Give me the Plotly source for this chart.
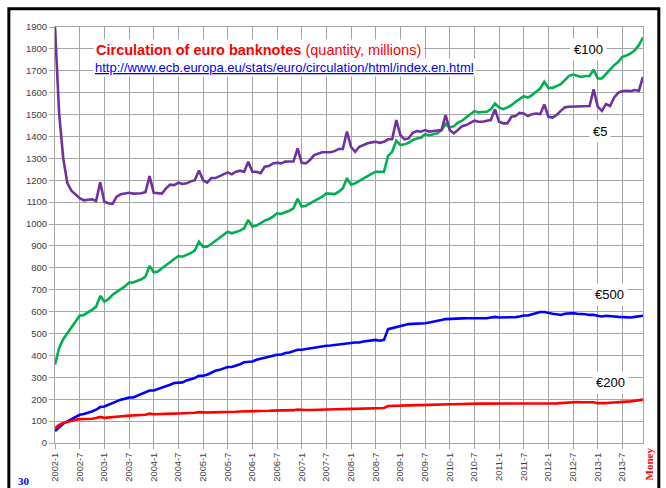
import plotly.graph_objects as go

# ---- data ----
months = [f"{y}-{m}" for y in range(2002, 2014) for m in range(1, 13)]
tick_labels = [f"{y}-{m}" for y in range(2002, 2014) for m in (1, 7)]

e5 = [1900, 1507, 1301, 1187, 1152, 1133, 1118, 1108, 1110, 1113, 1105, 1191,
      1102, 1095, 1092, 1125, 1136, 1139, 1143, 1139, 1139, 1141, 1146, 1219,
      1143, 1141, 1139, 1163, 1180, 1178, 1189, 1183, 1186, 1195, 1200, 1245,
      1201, 1189, 1210, 1210, 1219, 1228, 1236, 1227, 1239, 1244, 1239, 1285,
      1239, 1239, 1232, 1262, 1265, 1277, 1280, 1277, 1285, 1286, 1286, 1346,
      1280, 1277, 1292, 1315, 1323, 1328, 1328, 1328, 1333, 1343, 1343, 1422,
      1352, 1330, 1353, 1361, 1369, 1373, 1376, 1371, 1376, 1387, 1387, 1475,
      1406, 1387, 1391, 1417, 1425, 1422, 1429, 1422, 1425, 1429, 1429, 1498,
      1429, 1414, 1432, 1447, 1452, 1463, 1472, 1467, 1467, 1472, 1475, 1524,
      1467, 1460, 1460, 1490, 1493, 1508, 1505, 1493, 1502, 1505, 1502, 1546,
      1490, 1486, 1498, 1517, 1533, 1536, 1536, 1536, 1536, 1539, 1539, 1615,
      1536, 1517, 1548, 1539, 1578, 1600, 1607, 1609, 1607, 1612, 1609, 1672]

e100 = [358, 433, 474, 502, 529, 555, 581, 585, 596, 608, 623, 672,
        646, 657, 677, 692, 703, 715, 733, 733, 739, 748, 760, 809,
        780, 783, 798, 813, 824, 839, 854, 851, 859, 867, 879, 920,
        897, 897, 909, 924, 935, 950, 965, 958, 964, 970, 981, 1019,
        988, 993, 1004, 1016, 1023, 1034, 1049, 1046, 1054, 1061, 1072, 1115,
        1080, 1083, 1095, 1105, 1113, 1125, 1140, 1140, 1137, 1148, 1163, 1209,
        1180, 1186, 1198, 1209, 1219, 1229, 1239, 1239, 1239, 1311, 1330, 1381,
        1361, 1364, 1371, 1384, 1391, 1394, 1410, 1406, 1410, 1414, 1429, 1457,
        1441, 1447, 1463, 1472, 1487, 1502, 1516, 1510, 1510, 1513, 1524, 1551,
        1533, 1525, 1533, 1543, 1558, 1569, 1584, 1578, 1589, 1604, 1619, 1650,
        1622, 1622, 1631, 1639, 1657, 1677, 1683, 1676, 1672, 1676, 1676, 1706,
        1665, 1665, 1685, 1706, 1726, 1741, 1764, 1770, 1779, 1794, 1817, 1852]

e500 = [55, 73, 88, 99, 109, 119, 129, 132, 137, 144, 152, 164,
        167, 175, 182, 190, 198, 202, 208, 208, 216, 225, 231, 240,
        240, 246, 255, 261, 266, 274, 277, 277, 286, 290, 297, 307,
        307, 312, 322, 330, 334, 342, 347, 347, 353, 360, 369, 372,
        372, 380, 385, 391, 395, 400, 403, 403, 411, 413, 421, 426,
        426, 429, 433, 438, 441, 444, 444, 445, 448, 450, 453, 455,
        457, 459, 459, 464, 467, 468, 471, 467, 471, 520, 525, 529,
        532, 540, 543, 544, 544, 547, 547, 550, 553, 558, 562, 566,
        566, 567, 567, 569, 570, 570, 570, 570, 569, 570, 573, 576,
        573, 573, 573, 573, 575, 578, 582, 582, 588, 593, 598, 598,
        593, 590, 588, 585, 590, 593, 593, 590, 590, 588, 585, 585,
        581, 578, 581, 581, 578, 576, 575, 573, 573, 576, 578, 581]

e200 = [68, 83, 91, 97, 102, 106, 109, 109, 111, 111, 114, 119,
        115, 116, 119, 120, 121, 123, 125, 125, 126, 128, 129, 134,
        131, 131, 132, 133, 133, 134, 135, 135, 136, 137, 138, 141,
        139, 139, 140, 140, 141, 142, 143, 143, 143, 144, 144, 147,
        145, 145, 146, 146, 147, 148, 148, 148, 149, 149, 150, 153,
        151, 151, 151, 152, 152, 153, 153, 153, 154, 154, 155, 158,
        156, 156, 157, 157, 158, 158, 159, 159, 160, 169, 170, 171,
        171, 171, 172, 172, 173, 173, 174, 174, 175, 175, 176, 177,
        177, 177, 178, 178, 179, 179, 180, 180, 180, 180, 180, 181,
        179, 179, 178, 178, 178, 179, 179, 179, 179, 180, 180, 181,
        180, 180, 181, 182, 184, 186, 187, 187, 186, 186, 185, 186,
        182, 181, 182, 184, 186, 187, 188, 189, 190, 192, 194, 198]

series = [("€100", e100, "#00B050"), ("€5", e5, "#7030A0"),
          ("€500", e500, "#0000FF"), ("€200", e200, "#FF0000")]

label_pos = {"€100": (129.8, 1797), "€5": (132.5, 1425),
             "€500": (134.9, 676), "€200": (135.0, 276)}

fig = go.Figure()
for name, vals, col in series:
    fig.add_trace(go.Scatter(x=months, y=vals, mode="lines", name=name,
                             line=dict(color=col, width=2.6)))

FONT = "Liberation Sans, Arial, sans-serif"
SERIF = "Liberation Serif, Times New Roman, serif"
for name, (lx, ly) in label_pos.items():
    fig.add_annotation(x=lx, y=ly, xref="x", yref="y", text=name, showarrow=False,
                       font=dict(family=FONT, size=13, color="black"),
                       bgcolor="white", borderpad=3)

fig.add_annotation(x=9.2, y=1794, xref="x", yref="y", xanchor="left", yanchor="middle",
                   text="<b>Circulation of euro banknotes</b> (quantity, millions)",
                   showarrow=False, font=dict(family=FONT, size=14.5, color="#FF0000"),
                   bgcolor="white", borderpad=2)
fig.add_annotation(x=9.2, y=1713, xref="x", yref="y", xanchor="left", yanchor="middle",
                   text="<u>http://www.ecb.europa.eu/stats/euro/circulation/html/index.en.html</u>",
                   showarrow=False, font=dict(family=FONT, size=13, color="#0000FF"),
                   bgcolor="white", borderpad=1)

fig.add_annotation(x=-0.0527, y=-0.0905, xref="paper", yref="paper", text="<b>30</b>",
                   xanchor="center", yanchor="middle", showarrow=False,
                   font=dict(family=SERIF, size=11, color="#0000FF"))
fig.add_annotation(x=1.0099, y=-0.0497, xref="paper", yref="paper", text="<b>Money</b>",
                   xanchor="center", yanchor="middle", textangle=-90, showarrow=False,
                   font=dict(family=SERIF, size=11, color="#FF0000"))

fig.add_shape(type="rect", xref="paper", yref="paper", x0=-0.0785, x1=1.0269,
              y0=-0.25, y1=1.0437, line=dict(color="black", width=3))

fig.update_layout(
    width=666, height=488, showlegend=False,
    margin=dict(l=55, r=23.3, t=26.7, b=44.7, autoexpand=False),
    paper_bgcolor="white", plot_bgcolor="white",
    xaxis=dict(type="category", range=[0, 143], tickmode="array", automargin=False,
               tickvals=tick_labels, ticktext=tick_labels, tickangle=-90,
               showgrid=True, gridcolor="#A6A6A6", gridwidth=1,
               showline=True, linecolor="#A6A6A6", mirror=True,
               ticks="outside", ticklen=5, tickcolor="#A6A6A6",
               tickfont=dict(family=FONT, size=9.3, color="#404040")),
    yaxis=dict(range=[0, 1900], dtick=100, tick0=0, automargin=False,
               showgrid=True, gridcolor="#A6A6A6", gridwidth=1,
               showline=True, linecolor="#A6A6A6", mirror=True,
               ticks="outside", ticklen=5, tickcolor="#A6A6A6",
               tickfont=dict(family=FONT, size=9.5, color="#404040")),
)

fig.write_html("out.html", config={"displayModeBar": False},
               post_script="document.body.style.margin='0px';document.body.style.overflow='hidden';")
